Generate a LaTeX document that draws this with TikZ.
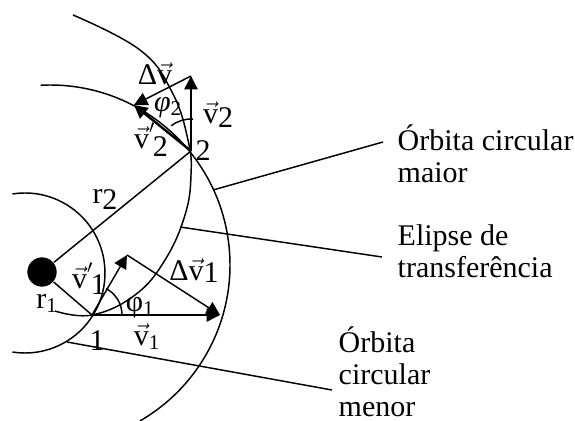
\documentclass[tikz,border=0pt]{standalone}
\usepackage{fontspec}
\setmainfont{Liberation Serif}
\usetikzlibrary{arrows.meta}
\usetikzlibrary{calc}
\tikzset{
    vetor/.style={-{Triangle[length=10pt, width=10pt]}},
    rotulo/.style={inner sep=0pt, anchor=base},
    legenda/.style={inner sep=0pt, anchor=base west}
}
\newcommand{\vetv}{\ensuremath{\vec{\mbox{v}}}}
\newcommand{\vetvl}{\ensuremath{\vec{\mbox{v}}'}\kern-1.5pt}

\begin{document}
\begin{tikzpicture}[x=0.75pt, y=-0.75pt, line width=1.1pt, font=\fontsize{22.5}{24}\selectfont]
	\useasboundingbox (0,0) rectangle (575,421);
	
	\node[circle, fill, minimum size=22pt, inner sep=0pt] (planeta) at (42,272) {};
	\coordinate (p1) at (92,315);
	\coordinate (p2) at (191,151);
	\coordinate (v1) at (220,315);
	\coordinate (vl1) at (127,255);
	\coordinate (v2) at (191,76);
	\coordinate (vl2) at (134,105);
	
	% orbitas e elipse
	\draw (25,273) ++(-99:80) arc[start angle=-99, end angle=99, radius=80];
	\draw (50,265) ++(-93:180) arc[start angle=-93, end angle=60, radius=180];
	\draw plot[smooth, tension=0.7] coordinates {(55,311) (92,315) (135,295) (165,260) (185,215) (191,175) (188,140) (172,92) (140,50) (73,15)};
	
	\draw (planeta) -- (p1);
	\draw (planeta) -- (p2);
	
	\draw[vetor] (p1) -- (v1);
	\draw[vetor] (p1) -- (vl1);
	\draw[vetor] (vl1) -- (v1);
	\draw[vetor] (p2) -- (v2);
	\draw[vetor, line width=1.8pt] (p2) -- (vl2);
	\draw[vetor] (v2) -- (vl2);
	
	\draw (p1) ++(0:30) arc[start angle=0, end angle=-62, radius=30];
	\draw (p2) ++(-86:32) arc[start angle=-86, end angle=-128, radius=32];
	
	\node[rotulo] (dv2) at (155,84) {Δ\vetv};
	\node[rotulo] (phi2) at (168,111) {\textit{φ}\textsubscript{2}};
	\node[rotulo] (lv2) at (218,123) {\vetv\raisebox{-3pt}{2}};
	\node[rotulo] (lvl2) at (151,148) {\vetvl\raisebox{-6pt}{2}};
	\node[rotulo] (n2) at (203,160) {2};
	\node[rotulo] (r2) at (105,203) {r\raisebox{-5pt}{2}};
	\node[rotulo] (lvl1) at (89,288) {\vetvl\raisebox{-5pt}{1}};
	\node[rotulo] (r1) at (47,308) {r\textsubscript{1}};
	\node[rotulo] (phi1) at (140,311) {φ\textsubscript{1}};
	\node[rotulo] (lv1) at (147,345) {\vetv\textsubscript{1}};
	\node[rotulo] (n1) at (97,350) {1};
	\node[rotulo] (dv1) at (194,280) {Δ\vetv\raisebox{-2pt}{1}};
	
	% legendas
	\node[legenda] (lmaior) at (397,150) {\begin{tabular}[t]{@{}l@{}}Órbita circular\\maior\end{tabular}};
	\node[legenda] (lelipse) at (397,245) {\begin{tabular}[t]{@{}l@{}}Elipse de\\transferência\end{tabular}};
	\node[legenda] (lmenor) at (338,352) {\begin{tabular}[t]{@{}l@{}}Órbita\\circular\\menor\end{tabular}};
	\coordinate (cmaior) at (213,190);
	\coordinate (celipse) at (180,227);
	\coordinate (cmenor) at (67,342);
	\draw (cmaior) -- ($(lmaior.base west)+(-14,-8)$);
	\draw (celipse) -- ($(lelipse.base west)+(-15,12)$);
	\draw (cmenor) -- ($(lmenor.base west)+(-6,38)$);
\end{tikzpicture}
\end{document}
